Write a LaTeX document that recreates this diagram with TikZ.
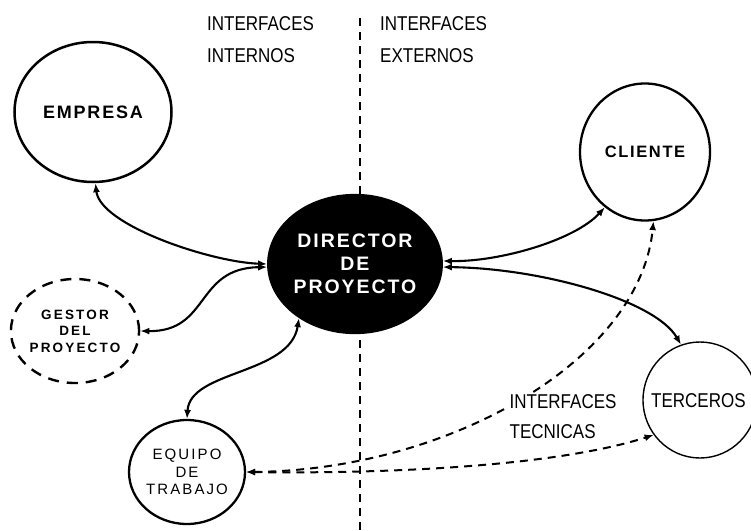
\documentclass[tikz,border=0pt]{standalone}
\usepackage{fontspec}
\setmainfont{Liberation Sans}
\newfontfamily\narrowfont[FakeStretch=0.85]{Liberation Sans}
\newfontfamily\wideA[LetterSpace=10]{Liberation Sans}
\newfontfamily\wideB[LetterSpace=16]{Liberation Sans}
\newfontfamily\wideC[LetterSpace=14]{Liberation Sans}
\usetikzlibrary{shapes.geometric,arrows.meta}
\begin{document}
\begin{tikzpicture}[x=1pt,y=-1pt,
  blob/.style={ellipse, draw, line width=2.3pt, inner sep=0pt, align=center},
  tip/.tip={Latex[length=9pt,width=7pt]},
  conn/.style={line width=2.1pt, tip-tip},
  dconn/.style={line width=2pt, tip-tip, dash pattern=on 8pt off 6pt},
  note/.style={font=\narrowfont\fontsize{20}{22}\selectfont, anchor=west, inner sep=0pt}
]
\useasboundingbox (0,0) rectangle (751,530);

% dividing line
\coordinate (ltop) at (360,18);
\coordinate (lbot) at (360,530);
\draw[line width=2.2pt, dash pattern=on 8pt off 6pt] (ltop) -- (lbot);

% texts
\node[note] (t1) at (207,24) {INTERFACES};
\node[note] (t2) at (207,56) {INTERNOS};
\node[note] (t3) at (380,24) {INTERFACES};
\node[note] (t4) at (380,56) {EXTERNOS};

% nodes
\node[blob, line width=2.5pt, minimum width=157pt, minimum height=140pt,
      font=\wideA\bfseries\fontsize{18}{20}\selectfont] (emp) at (93,112) {EMPRESA};
\node[blob, minimum width=130pt, minimum height=137pt,
      font=\wideA\bfseries\fontsize{16.5}{20}\selectfont] (cli) at (645,152) {CLIENTE};
\node[blob, fill=black, text=white, minimum width=160pt, minimum height=138pt,
      font=\wideA\bfseries\fontsize{19.5}{23}\selectfont] (dir) at (355,264) {DIRECTOR\\DE\\PROYECTO};
\node[blob, dash pattern=on 11pt off 8pt, line width=2.4pt, minimum width=124pt, minimum height=104pt,
      font=\wideB\bfseries\fontsize{13.5}{16.5}\selectfont] (ges) at (75,331) {GESTOR\\DEL\\PROYECTO};
\node[blob, minimum width=116pt, minimum height=104pt,
      font=\wideC\fontsize{15}{17.5}\selectfont] (equ) at (187,472) {EQUIPO\\DE\\TRABAJO};
\node[blob, line width=1.4pt, minimum width=114pt, minimum height=116pt] (ter) at (700,400) {};
\node[note] (tert) at (651,401) {TERCEROS};

% connectors
\draw[conn] (emp.-88) .. controls (100,225) and (210,262) .. (dir.180);
\draw[conn] (dir.2) .. controls (500,262) and (575,240) .. (cli.-126);
\draw[conn] (dir.-2) .. controls (540,268) and (655,300) .. (ter.109);
\draw[conn] (ges.0) .. controls (210,332) and (195,268) .. (dir.182);
\draw[conn] (dir.224) .. controls (290,375) and (190,370) .. (equ.90);
\draw[dconn] (equ.0) .. controls (400,474) and (560,465) .. (ter.217);
\draw[dconn] (equ.0) .. controls (450,470) and (640,360) .. (cli.-83);

% label over the dashed interface line
\node[note, fill=white, inner sep=1.5pt] (t5) at (508,402) {INTERFACES};
\node[note, fill=white, inner sep=1.5pt] (t6) at (508,432) {TECNICAS};
\end{tikzpicture}
\end{document}
